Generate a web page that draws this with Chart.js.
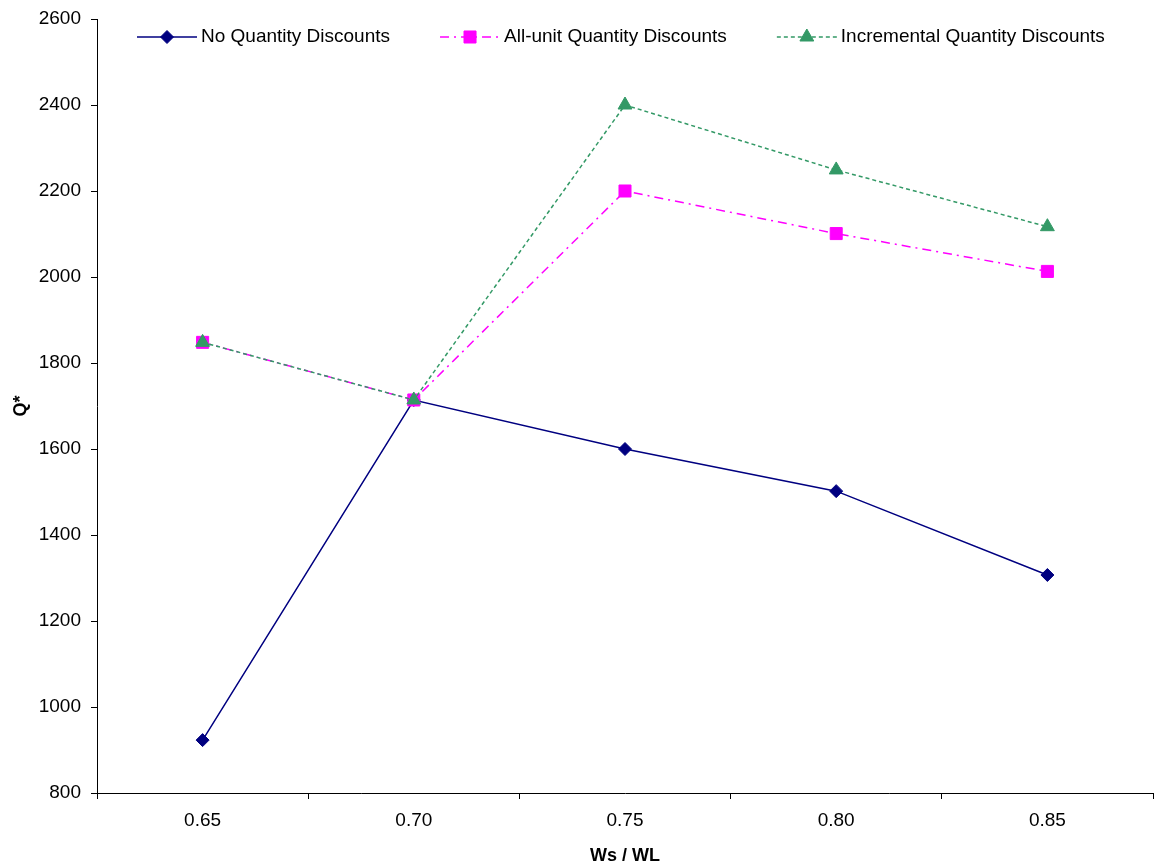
<!DOCTYPE html>
<html>
<head>
<meta charset="utf-8">
<script src="https://cdn.jsdelivr.net/npm/chart.js@4/dist/chart.umd.min.js"></script>
<style>
  html, body { margin: 0; padding: 0; background: #ffffff; }
  canvas { display: block; }
</style>
</head>
<body>
<canvas id="c" width="1157" height="867"></canvas>
<script>
const categories = ['0.65', '0.70', '0.75', '0.80', '0.85'];
const noDiscount = [923, 1714, 1600, 1502, 1307];
const allUnit = [1848, 1714, 2200, 2101, 2013];
const incremental = [1848, 1714, 2400, 2249, 2117];
const seriesNames = ['No Quantity Discounts', 'All-unit Quantity Discounts', 'Incremental Quantity Discounts'];
const yMin = 800, yMax = 2600, yStep = 200;
const xTitle = 'Ws / WL';
const yTitle = 'Q*';

Chart.defaults.font.family = '"Liberation Sans", Arial, sans-serif';
Chart.defaults.color = '#000000';

const legendPlugin = {
  id: 'excelLegend',
  afterDraw(chart) {
    const ctx = chart.ctx;
    const y = 37;
    let x = 137;
    const sampleW = 60;
    ctx.save();
    ctx.font = '19px "Liberation Sans", Arial, sans-serif';
    ctx.textBaseline = 'middle';
    ctx.textAlign = 'left';
    chart.data.datasets.forEach((ds, i) => {
      ctx.save();
      ctx.strokeStyle = ds.borderColor;
      ctx.lineWidth = ds.borderWidth;
      ctx.setLineDash(ds.borderDash || []);
      ctx.beginPath();
      ctx.moveTo(x, y);
      ctx.lineTo(x + sampleW, y);
      ctx.stroke();
      ctx.restore();
      ctx.save();
      ctx.fillStyle = ds.pointBackgroundColor;
      ctx.strokeStyle = ds.pointBorderColor;
      ctx.lineWidth = 1;
      Chart.helpers.drawPoint(ctx, { pointStyle: ds.pointStyle, radius: ds.pointRadius, borderWidth: 1, rotation: 0 }, x + sampleW / 2, y);
      ctx.restore();
      ctx.fillStyle = '#000000';
      ctx.fillText(ds.label, x + sampleW + 4, y);
      x += sampleW + 4 + ctx.measureText(ds.label).width + 50;
    });
    ctx.restore();
  }
};

function zeroPad(scale) {
  scale.paddingLeft = 0; scale.paddingRight = 0;
  scale.paddingTop = 0; scale.paddingBottom = 0;
}

new Chart(document.getElementById('c'), {
  type: 'line',
  data: {
    labels: categories,
    datasets: [
      {
        label: seriesNames[0], data: noDiscount, order: 3,
        borderColor: '#000080', backgroundColor: '#000080', borderWidth: 1.5,
        pointStyle: 'rectRot', pointRadius: 6.5, pointHoverRadius: 6.5,
        pointBackgroundColor: '#000080', pointBorderColor: '#000080', pointBorderWidth: 1,
        tension: 0, fill: false
      },
      {
        label: seriesNames[1], data: allUnit, order: 2,
        borderColor: '#FF00FF', backgroundColor: '#FF00FF', borderWidth: 1.5,
        borderDash: [9, 5, 2, 5],
        pointStyle: 'rect', pointRadius: 8.5, pointHoverRadius: 8.5,
        pointBackgroundColor: '#FF00FF', pointBorderColor: '#FF00FF', pointBorderWidth: 1,
        tension: 0, fill: false
      },
      {
        label: seriesNames[2], data: incremental, order: 1,
        borderColor: '#339966', backgroundColor: '#339966', borderWidth: 1.5,
        borderDash: [4, 3],
        pointStyle: 'triangle', pointRadius: 8, pointHoverRadius: 8,
        pointBackgroundColor: '#339966', pointBorderColor: '#339966', pointBorderWidth: 1,
        tension: 0, fill: false
      }
    ]
  },
  options: {
    responsive: false,
    animation: false,
    layout: { autoPadding: false, padding: { top: 19, right: 4, bottom: 0, left: 0 } },
    plugins: {
      legend: { display: false },
      tooltip: { enabled: false }
    },
    scales: {
      x: {
        type: 'category',
        offset: true,
        grid: { offset: true, drawOnChartArea: false, drawTicks: true, tickLength: 6, color: '#000000', lineWidth: 1 },
        border: { display: true, color: '#000000', width: 1 },
        ticks: { font: { size: 19 }, color: '#000000', padding: 10, maxRotation: 0, autoSkip: false },
        title: { display: true, text: xTitle, font: { size: 18, weight: 'bold' }, color: '#000000', padding: { top: 0, bottom: 0 } },
        afterFit(scale) { scale.height = 74; zeroPad(scale); }
      },
      y: {
        min: yMin, max: yMax,
        grid: { drawOnChartArea: false, drawTicks: true, tickLength: 6, color: '#000000', lineWidth: 1 },
        border: { display: true, color: '#000000', width: 1 },
        ticks: { stepSize: yStep, font: { size: 19 }, color: '#000000', padding: 10, callback: (v) => String(v) },
        title: { display: true, text: yTitle, font: { size: 18, weight: 'bold' }, color: '#000000', padding: { top: 10, bottom: 0 } },
        afterFit(scale) { scale.width = 97; zeroPad(scale); }
      }
    }
  },
  plugins: [legendPlugin]
});
</script>
</body>
</html>
